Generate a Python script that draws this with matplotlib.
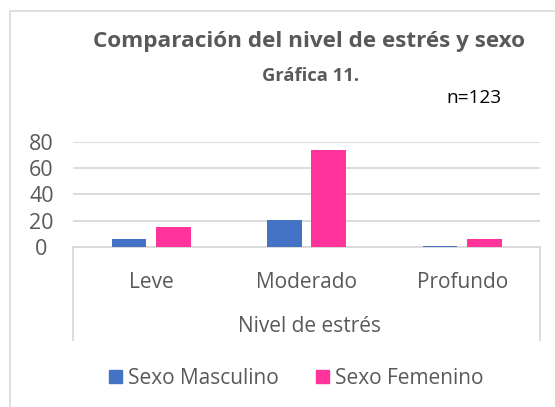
import matplotlib
matplotlib.use("Agg")
import matplotlib.pyplot as plt
from matplotlib.patches import Rectangle
from matplotlib.lines import Line2D
import numpy as np

categories = ["Leve", "Moderado", "Profundo"]
masculino = [6, 21, 1]
femenino = [15, 74, 6]
yticks = [0, 20, 40, 60, 80]
title = "Comparación del nivel de estrés y sexo"
subtitle = "Gráfica 11."
n_label = "n=123"
xlabel = "Nivel de estrés"
series_names = ["Sexo Masculino", "Sexo Femenino"]

W, H = 555, 407
BLUE = "#4472C4"
PINK = "#FF3399"
GRAY = "#595959"
LINE = "#D9D9D9"
FONT = "Open Sans"

plt.rcParams["font.family"] = [FONT, "DejaVu Sans"]

fig = plt.figure(figsize=(W / 100, H / 100), dpi=100)

def fx(px):
    return px / W

def fy(py):
    return 1 - py / H

# outer chart border
fig.add_artist(Rectangle((fx(9.5), fy(420)), fx(560) - fx(9.5), fy(10.5) - fy(420),
                         transform=fig.transFigure, fill=False, edgecolor=LINE, lw=1.2))

left, right, top, bottom = 73.3, 540, 141.7, 247.3
ax = fig.add_axes([fx(left), fy(bottom), fx(right) - fx(left), fy(top) - fy(bottom)])
x = np.arange(len(categories))
w = 0.223
off = 0.142
ax.bar(x - off, masculino, w, color=BLUE, zorder=3)
ax.bar(x + off, femenino, w, color=PINK, zorder=3)
ax.set_xlim(-0.5, len(categories) - 0.5)
ax.set_ylim(0, 80)
ax.set_yticks(yticks)
ax.yaxis.grid(True, color=LINE, lw=1.3, zorder=0)
ax.set_axisbelow(True)
for s in ["top", "right", "left"]:
    ax.spines[s].set_visible(False)
ax.spines["bottom"].set_color(LINE)
ax.spines["bottom"].set_linewidth(1.3)
ax.tick_params(axis="y", length=0, labelsize=15.5, labelcolor=GRAY)
ax.tick_params(axis="x", length=0, pad=18, labelsize=15, labelcolor=GRAY)
ax.set_xticks(x)
ax.set_xticklabels(categories)
for lab in ax.get_yticklabels():
    lab.set_horizontalalignment("center")
ax.tick_params(axis="y", pad=23)

# category box lines
for px in (left, right):
    fig.add_artist(Line2D([fx(px), fx(px)], [fy(bottom), fy(340)],
                          transform=fig.transFigure, color=LINE, lw=1.3))

fig.text(fx(309), fy(326), xlabel, ha="center", va="center", fontsize=15, color=GRAY)

fig.text(fx(309), fy(41), title, ha="center", va="center", fontsize=16.2,
         fontweight="bold", color=GRAY)
fig.text(fx(311), fy(76), subtitle, ha="center", va="center", fontsize=13.2,
         fontweight="bold", color=GRAY)
fig.text(fx(473.7), fy(98), n_label, ha="center", va="center", fontsize=13.7, color="black")

handles = [Rectangle((0, 0), 1, 1, color=BLUE), Rectangle((0, 0), 1, 1, color=PINK)]
fig.legend(handles, series_names, loc="center", bbox_to_anchor=(fx(296.5), fy(378)),
           ncol=2, frameon=False, fontsize=15, labelcolor=GRAY,
           handlelength=0.6, handleheight=0.6, handletextpad=0.3, columnspacing=1.8)

fig.savefig("out.png", dpi=100)
